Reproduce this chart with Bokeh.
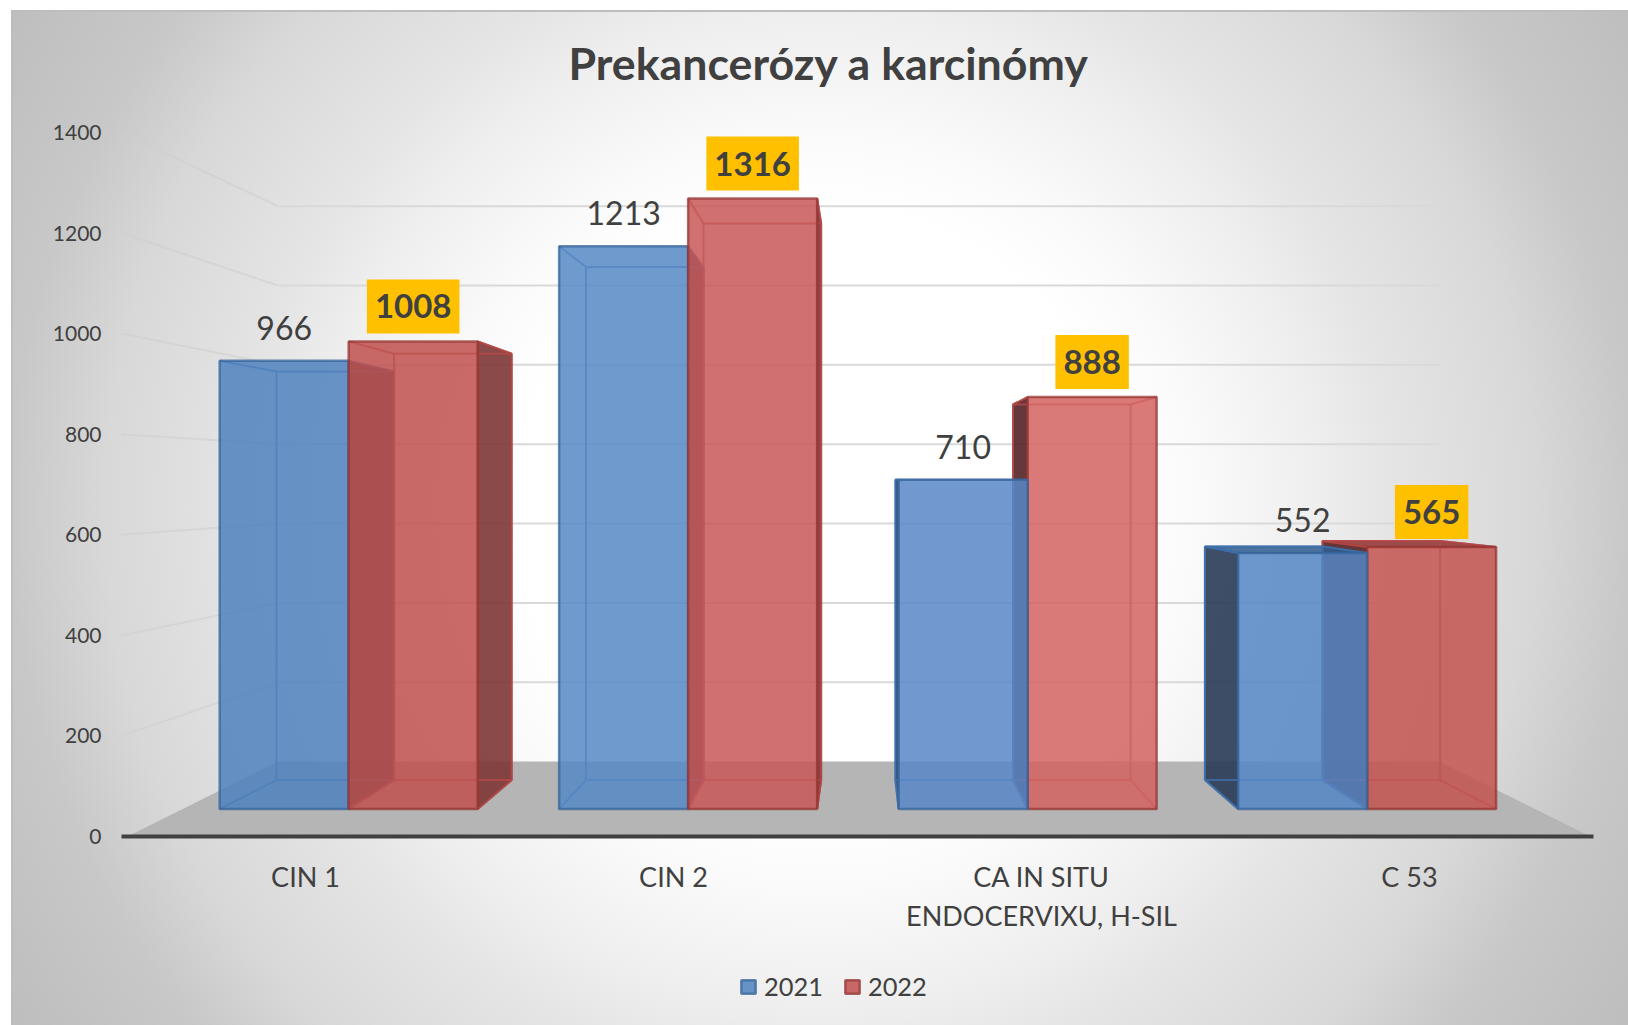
from bokeh.plotting import figure
from bokeh.models import Range1d, Title, FixedTicker, Legend, LegendItem
from bokeh.core.properties import value
from bokeh.embed import file_html
from bokeh.resources import INLINE

categories = ["CIN 1", "CIN 2", "CA IN SITU\nENDOCERVIXU, H-SIL", "C 53"]
values_2021 = [966, 1213, 710, 552]
values_2022 = [1008, 1316, 888, 565]
series_names = ["2021", "2022"]
y_ticks = [0, 200, 400, 600, 800, 1000, 1200, 1400]
title_text = "Prekancerózy a karcinómy"

FONT = "Lato"
TXT = "#404040"
VX, VY = 2.0136, 706.0          # vanishing point in data units
S_BACK, S_BF, S_BB = 0.789, 0.9225, 0.841   # depth scales: wall, bar front, bar back
BAR_W = 0.38
FRONTS = {"2021": ["#4F81BD", "#5688C5", "#5887C8", "#5486C5"],
          "2022": ["#C0504D", "#C85757", "#D26360", "#C3534F"]}
STY = {
    "2021": dict(line="#376499", inner="#3E72B0", right="#293B55", left="#293B55", top="#2E5C91"),
    "2022": dict(line="#963634", inner="#B84A48", right="#7E3636", left="#542426", top="#8F3030"),
}


def proj(x, y, s):
    return VX + (x - VX) * s, VY + (y - VY) * s


# frame: x 0..4 spans the axis line, y spans from the page bottom to below the title
PX_PER_UNIT = 704 / 1400
p = figure(width=1628, height=1025, output_backend="svg", toolbar_location=None,
           x_range=Range1d(0, 4), y_range=Range1d(-189 / PX_PER_UNIT, 736 / PX_PER_UNIT),
           min_border_left=121, min_border_right=35, min_border_top=100, min_border_bottom=0)
p.styles = {"background":
            "linear-gradient(#BDBDBD,#BDBDBD) 11px 10px/100% 2px no-repeat,"
            "linear-gradient(#BDBDBD,#BDBDBD) 11px 10px/2px 100% no-repeat,"
            "radial-gradient(circle at 809px 500px,#ffffff 0,#ffffff 300px,#fafafa 380px,#eeeeee 500px,"
            "#e5e5e5 570px,#d8d8d8 715px,#c8c8c8 810px,#bebebe 950px) 11px 10px no-repeat"}
p.background_fill_color = None
p.border_fill_color = None
p.outline_line_color = None
p.grid.visible = False

p.add_layout(Title(text=title_text, align="left", offset=447, standoff=22, text_font=FONT,
                   text_font_style="bold", text_font_size="44.7px", text_color=TXT), "above")

# axes
ax = p.yaxis[0]
ax.ticker = FixedTicker(ticks=y_ticks)
ax.axis_line_color = None
ax.major_tick_line_color = None
ax.minor_tick_line_color = None
ax.major_label_standoff = 14
ax.major_label_text_font = FONT
ax.major_label_text_font_size = "21px"
ax.major_label_text_color = TXT

ax = p.xaxis[0]
ax.fixed_location = 0
ax.ticker = FixedTicker(ticks=[i + 0.5 for i in range(len(categories))])
ax.major_label_overrides = {i + 0.5: c for i, c in enumerate(categories)}
ax.axis_line_color = "#404040"
ax.axis_line_width = 4
ax.axis_line_cap = "round"
ax.major_tick_line_color = None
ax.minor_tick_line_color = None
ax.major_label_standoff = 17
ax.major_label_text_font = FONT
ax.major_label_text_font_size = "27px"
ax.major_label_text_color = TXT
ax.major_label_text_line_height = 1.2

# floor
fx0, fy0 = proj(0, 0, 1)
fx1, fy1 = proj(4, 0, 1)
bx0, by0 = proj(0, 0, S_BACK)
bx1, by1 = proj(4, 0, S_BACK)
p.patch([fx0 + 0.016, bx0, bx1, fx1 - 0.008], [0, by0, by1, 0], fill_color="#B5B5B5", line_color=None)

# walls' gridlines
for t in y_ticks[1:]:
    a = proj(0, t, 1)
    b = proj(0, t, S_BACK)
    c = proj(4, t, S_BACK)
    p.line([a[0], b[0]], [a[1], b[1]], line_color="#CFCFCF", line_width=2, line_alpha=0.6)
    p.line([b[0], c[0]], [b[1], c[1]], line_color="#D9D9D9", line_width=2)


def cuboid(x0, x1, v, name, front_color):
    st = STY[name]
    sides = dict(
        l=[proj(x0, 0, S_BF), proj(x0, v, S_BF), proj(x0, v, S_BB), proj(x0, 0, S_BB)],
        r=[proj(x1, 0, S_BF), proj(x1, v, S_BF), proj(x1, v, S_BB), proj(x1, 0, S_BB)],
    )
    top = [proj(x0, v, S_BF), proj(x1, v, S_BF), proj(x1, v, S_BB), proj(x0, v, S_BB)]
    back = [proj(x0, 0, S_BB), proj(x0, v, S_BB), proj(x1, v, S_BB), proj(x1, 0, S_BB), proj(x0, 0, S_BB)]
    front = [proj(x0, 0, S_BF), proj(x0, v, S_BF), proj(x1, v, S_BF), proj(x1, 0, S_BF)]

    def xy(pts):
        return [q[0] for q in pts], [q[1] for q in pts]

    if x1 < VX:
        fx, fy = xy(sides["r"])
        p.patch(fx, fy, fill_color=st["right"], fill_alpha=0.9, line_color=st["line"], line_width=2, line_alpha=0.8)
    if x0 > VX:
        fx, fy = xy(sides["l"])
        p.patch(fx, fy, fill_color=st["left"], fill_alpha=0.9, line_color=st["line"], line_width=2, line_alpha=0.8)
    if v < VY:
        fx, fy = xy(top)
        p.patch(fx, fy, fill_color=st["top"], fill_alpha=0.85, line_color=st["line"], line_width=2, line_alpha=0.8)
    bxs, bys = xy(back)
    p.line(bxs, bys, line_color=st["inner"], line_width=2, line_alpha=0.75)
    for k in range(4):
        a = front[k]
        b = back[k]
        p.line([a[0], b[0]], [a[1], b[1]], line_color=st["inner"], line_width=2, line_alpha=0.75)
    fx, fy = xy(front)
    return p.patch(fx, fy, fill_color=front_color, fill_alpha=0.85, line_color=st["line"], line_width=2.5,
                   line_alpha=0.75)


legend_r = {}
for i in range(len(categories)):
    c = i + 0.5
    blue = (c - BAR_W, c, values_2021[i], "2021", FRONTS["2021"][i])
    red = (c, c + BAR_W, values_2022[i], "2022", FRONTS["2022"][i])
    order = [blue, red] if c < VX else [red, blue]
    for b in order:
        r = cuboid(*b)
        legend_r.setdefault(b[3], r)

# data labels
lx = []
ly = []
for i in range(len(categories)):
    q = proj(i + 0.5 - BAR_W / 2, values_2021[i], S_BF)
    lx.append(q[0])
    ly.append(q[1])
p.text(lx, ly, text=[str(v) for v in values_2021], y_offset=-33, text_align="center", text_baseline="middle",
       text_font=value(FONT), text_font_size="32px", text_color=TXT)

lx = []
ly = []
for i in range(len(categories)):
    q = proj(i + 0.5 + BAR_W / 2, values_2022[i], S_BF)
    lx.append(q[0])
    ly.append(q[1])
p.text(lx, ly, text=[str(v) for v in values_2022], y_offset=-35, text_align="center", text_baseline="middle",
       text_font=value(FONT), text_font_size="33px", text_font_style="bold", text_color=TXT,
       background_fill_color="#FFC000", padding=(8, 15))

legend = Legend(items=[LegendItem(label=n, renderers=[legend_r[n]]) for n in series_names],
                orientation="horizontal", location=(618, 24),
                background_fill_alpha=0, border_line_color=None, padding=0, margin=0, spacing=20,
                glyph_width=18, glyph_height=17, label_standoff=7, label_text_font=FONT,
                label_text_font_size="25.4px", label_text_color=TXT)
p.add_layout(legend, "center")

open("out.html", "w").write(file_html(p, INLINE))
